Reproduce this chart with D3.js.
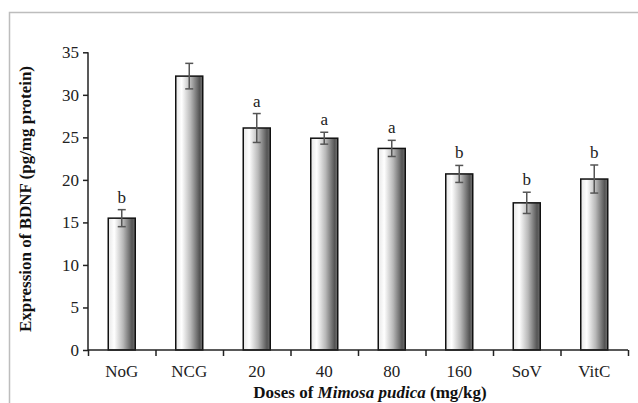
<!DOCTYPE html>
<html>
<head>
<meta charset="utf-8">
<script src="https://cdn.jsdelivr.net/npm/d3@7"></script>
<style>
  body { margin: 0; background: white; }
  svg { display: block; }
  text { font-family: "Liberation Serif", "Times New Roman", serif; }
</style>
</head>
<body>
<div id="container"></div>
<script>
// groups on the x axis
let groups = ["NoG", "NCG", "20", "40", "80", "160", "SoV", "VitC"];
// BDNF expression (pg/mg protein)
let means = [15.5, 32.2, 26.1, 24.9, 23.7, 20.7, 17.3, 20.1];
let errors = [1.0, 1.5, 1.7, 0.7, 0.95, 1.0, 1.25, 1.65];
let letters = ["b", "", "a", "a", "a", "b", "b", "b"];
let yTicks = [0, 5, 10, 15, 20, 25, 30, 35];

let w = 638;
let h = 403;
let plotLeft = 88, plotRight = 628, plotTop = 52.3, plotBottom = 350;
let serif = "'Liberation Serif', 'Times New Roman', serif";

let viz = d3.select("#container")
  .append("svg")
  .attr("width", w)
  .attr("height", h);

// frame lines (top + left)
viz.append("path")
  .attr("d", "M9.5,403 V12.5 H638")
  .attr("fill", "none")
  .attr("stroke", "#bdbdbd")
  .attr("stroke-width", 1.5);

// bar shading
let grad = viz.append("defs").append("linearGradient")
  .attr("id", "barGrad")
  .attr("x1", "0%").attr("x2", "100%").attr("y1", "0%").attr("y2", "0%");
grad.append("stop").attr("offset", "0%").attr("stop-color", "#e6e6e6");
grad.append("stop").attr("offset", "22%").attr("stop-color", "#ffffff");
grad.append("stop").attr("offset", "55%").attr("stop-color", "#b8b8b8");
grad.append("stop").attr("offset", "88%").attr("stop-color", "#555555");
grad.append("stop").attr("offset", "100%").attr("stop-color", "#707070");

let xScale = d3.scaleBand().domain(groups).range([plotLeft, plotRight]).paddingInner(0.6).paddingOuter(0.3);
let yScale = d3.scaleLinear().domain([0, 35]).range([plotBottom, plotTop]);

// bars
viz.selectAll(".bar")
  .data(groups)
  .enter()
  .append("rect")
  .attr("class", "bar")
  .attr("x", function (d) { return xScale(d); })
  .attr("width", xScale.bandwidth())
  .attr("y", function (d, i) { return yScale(means[i]); })
  .attr("height", function (d, i) { return plotBottom - yScale(means[i]); })
  .attr("fill", "url(#barGrad)")
  .attr("stroke", "#111")
  .attr("stroke-width", 1.5);

// error bars
let errGroups = viz.selectAll(".err")
  .data(groups)
  .enter()
  .append("g")
  .attr("class", "err")
  .attr("stroke", "#555")
  .attr("stroke-width", 1.5);

errGroups.append("line")
  .attr("x1", function (d) { return xScale(d) + xScale.bandwidth() / 2; })
  .attr("x2", function (d) { return xScale(d) + xScale.bandwidth() / 2; })
  .attr("y1", function (d, i) { return yScale(means[i] + errors[i]); })
  .attr("y2", function (d, i) { return yScale(means[i] - errors[i]); });

[1, -1].forEach(function (s) {
  errGroups.append("line")
    .attr("x1", function (d) { return xScale(d) + xScale.bandwidth() / 2 - 4; })
    .attr("x2", function (d) { return xScale(d) + xScale.bandwidth() / 2 + 4; })
    .attr("y1", function (d, i) { return yScale(means[i] + s * errors[i]); })
    .attr("y2", function (d, i) { return yScale(means[i] + s * errors[i]); });
});

// significance letters
viz.selectAll(".letter")
  .data(groups)
  .enter()
  .append("text")
  .attr("class", "letter")
  .attr("x", function (d) { return xScale(d) + xScale.bandwidth() / 2; })
  .attr("y", function (d, i) { return yScale(means[i] + errors[i]) - 7; })
  .attr("text-anchor", "middle")
  .attr("font-family", serif)
  .attr("font-size", "17px")
  .attr("fill", "#222")
  .text(function (d, i) { return letters[i]; });

// axes
let yAxis = d3.axisLeft(yScale).tickValues(yTicks).tickSize(5).tickPadding(4);
let yAxisGroup = viz.append("g").attr("transform", "translate(" + plotLeft + ",0)").call(yAxis);

let xTickScale = d3.scaleLinear().domain([0, groups.length]).range([plotLeft, plotRight]);
let xAxis = d3.axisBottom(xTickScale).tickValues(d3.range(0, groups.length + 1)).tickSize(6).tickFormat("");
let xAxisGroup = viz.append("g").attr("transform", "translate(0," + plotBottom + ")").call(xAxis);

[yAxisGroup, xAxisGroup].forEach(function (g) {
  g.attr("font-family", serif).attr("font-size", 17);
  g.select(".domain").attr("stroke", "#222").attr("stroke-width", 1.5);
  g.selectAll(".tick line").attr("stroke", "#222").attr("stroke-width", 1.5);
  g.selectAll("text").attr("fill", "#222");
});
yAxisGroup.select(".domain").attr("d", "M0," + plotTop + "V" + plotBottom);
xAxisGroup.select(".domain").attr("d", "M" + plotLeft + ",0H" + plotRight);

// category labels
viz.selectAll(".xlabel")
  .data(groups)
  .enter()
  .append("text")
  .attr("class", "xlabel")
  .attr("x", function (d) { return xScale(d) + xScale.bandwidth() / 2; })
  .attr("y", 377)
  .attr("text-anchor", "middle")
  .attr("font-family", serif)
  .attr("font-size", "17px")
  .attr("fill", "#222")
  .text(function (d) { return d; });

// axis titles
let xTitle = viz.append("text")
  .attr("x", 370)
  .attr("y", 398)
  .attr("text-anchor", "middle")
  .attr("font-family", serif)
  .attr("font-size", "17px")
  .attr("font-weight", "bold")
  .attr("fill", "#111");
xTitle.append("tspan").text("Doses of ");
xTitle.append("tspan").attr("font-style", "italic").text("Mimosa pudica");
xTitle.append("tspan").text(" (mg/kg)");

viz.append("text")
  .attr("transform", "translate(31,199) rotate(-90)")
  .attr("text-anchor", "middle")
  .attr("font-family", serif)
  .attr("font-size", "17px")
  .attr("font-weight", "bold")
  .attr("fill", "#111")
  .text("Expression of BDNF (pg/mg protein)");
</script>
</body>
</html>
